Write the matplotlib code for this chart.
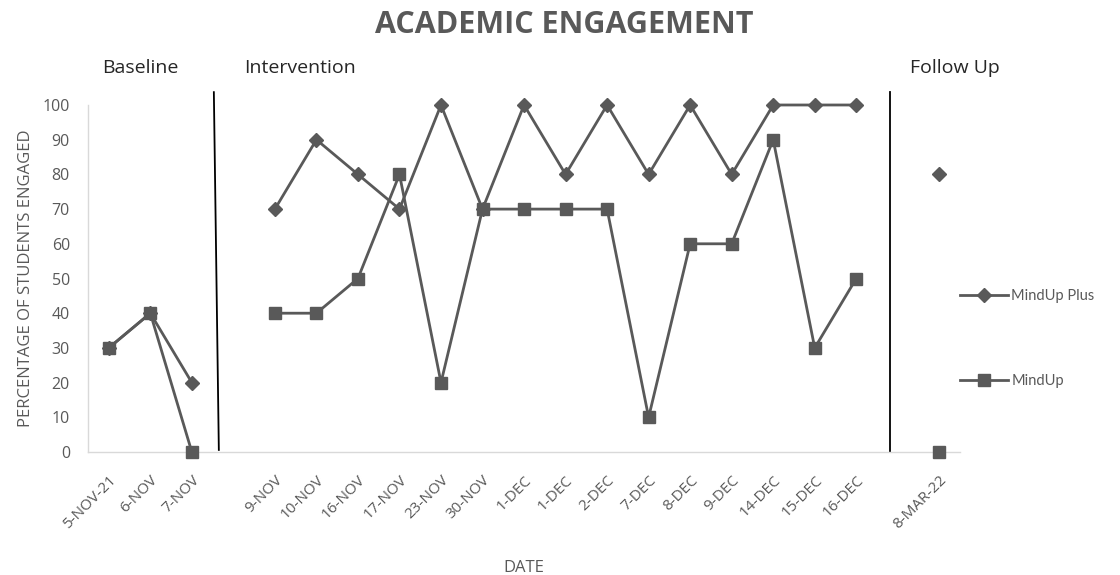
import numpy as np
import matplotlib.pyplot as plt

plt.rcParams['font.family'] = ['Open Sans', 'DejaVu Sans']

# dates on the category axis; empty slots separate the three phases
dates = ['5-NOV-21', '6-NOV', '7-NOV', '',
         '9-NOV', '10-NOV', '16-NOV', '17-NOV', '23-NOV', '30-NOV',
         '1-DEC', '1-DEC', '2-DEC', '7-DEC', '8-DEC', '9-DEC',
         '14-DEC', '15-DEC', '16-DEC', '', '8-MAR-22']

mindup_plus = [30, 40, 20, np.nan,
               70, 90, 80, 70, 100, 70, 100, 80, 100, 80, 100, 80, 100, 100, 100,
               np.nan, 80]
mindup = [30, 40, 0, np.nan,
          40, 40, 50, 80, 20, 70, 70, 70, 70, 10, 60, 60, 90, 30, 50,
          np.nan, 0]

phases = ['Baseline', 'Intervention', 'Follow Up']

grey = '#595959'
x = np.arange(len(dates))

fig = plt.figure(figsize=(11.2, 5.75), dpi=100)
ax = fig.add_axes([0.0786, 0.2139, 0.7786, 0.6035])

ax.plot(x, mindup_plus, color=grey, lw=2, marker='D', ms=7, label='MindUp Plus',
        clip_on=False, zorder=3)
ax.plot(x, mindup, color=grey, lw=2, marker='s', ms=8.5, label='MindUp',
        clip_on=False, zorder=3)

ax.set_xlim(-0.5, len(dates) - 0.5)
ax.set_ylim(0, 100)
ax.set_yticks(range(0, 101, 10))
ax.set_xticks(x)
ax.set_xticklabels(dates, rotation=45, ha='right', va='top',
                   rotation_mode='anchor', fontsize=11, color=grey)
ax.tick_params(axis='y', length=0, pad=13, labelsize=11.5, labelcolor=grey)
ax.tick_params(axis='x', length=0, pad=15)

for side in ['top', 'right']:
    ax.spines[side].set_visible(False)
for side in ['left', 'bottom']:
    ax.spines[side].set_color('#d9d9d9')
    ax.spines[side].set_linewidth(1)

# phase change lines
ax.plot([2.53, 2.65], [103.7, 0.6], color='black', lw=1.3, clip_on=False)
ax.plot([18.82, 18.82], [103.7, 0], color='black', lw=1.3, clip_on=False)

ax.set_ylabel('PERCENTAGE OF STUDENTS ENGAGED', fontsize=12, color=grey, labelpad=6)
ax.set_xlabel('DATE', fontsize=12, color=grey, labelpad=20)

fig.text(0.504, 1 - 25 / 575, 'ACADEMIC ENGAGEMENT', ha='center', va='center',
         fontsize=22, fontweight='bold', color=grey)

for label, xpos in zip(phases, [102, 244, 910]):
    fig.text(xpos / 1120, 1 - 68 / 575, label, ha='left', va='center',
             fontsize=14, color='#262626')

ax.legend(loc='center left', bbox_to_anchor=(0.845, 0.411), bbox_transform=fig.transFigure,
          frameon=False, prop={'family': 'Lato', 'size': 10.5}, labelspacing=4.9,
          handlelength=3.3, handletextpad=0.25, labelcolor=grey)

fig.savefig('out.png', dpi=100)
